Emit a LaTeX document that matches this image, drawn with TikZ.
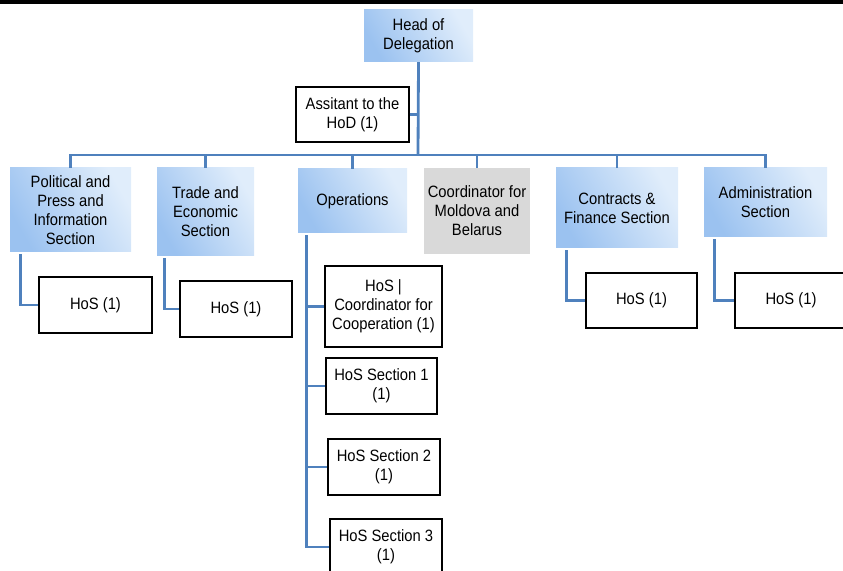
\documentclass[tikz,border=0pt]{standalone}
\usepackage{fontspec}
\setmainfont{Liberation Sans}[FakeStretch=0.9]
\definecolor{linkblue}{RGB}{79,129,189}
\definecolor{gradleft}{RGB}{155,194,240}
\definecolor{gradright}{RGB}{224,237,251}
\definecolor{coordgrey}{RGB}{217,217,217}
\begin{document}
\begin{tikzpicture}[x=0.03cm,y=-0.03cm,
 font=\fontsize{14}{16.2}\selectfont,
 unit/.style={align=center,inner sep=0pt,text=black},
 boxsize/.style 2 args={minimum width=#1*0.03cm,minimum height=#2*0.03cm},
 sectbox/.style={unit,left color=gradleft,right color=gradright,shading angle=120},
 coordbox/.style={unit,fill=coordgrey},
 hosbox/.style={unit,draw=black,line width=0.9pt,fill=white},
 link/.style={draw=linkblue,line width=2.4pt}]
 \useasboundingbox (0,0) rectangle (843,571);
 \draw[line width=2.6pt] (0,2) -- (843,2);
 % top
 \node[sectbox,boxsize={109}{52}] (head) at (418.5,36) {Head of\\Delegation};
 \node[hosbox,boxsize={113}{55}] (asst) at (352.5,114.5) {Assitant to the\\HoD (1)};
 \coordinate (bus) at (418,155);
 % sections
 \node[sectbox,boxsize={121}{84}] (pol) at (70.5,210) {Political and\\Press and\\Information\\Section};
 \node[sectbox,boxsize={97}{88}] (trade) at (205.5,212) {Trade and\\Economic\\Section};
 \node[sectbox,boxsize={109}{64}] (ops) at (352.5,201) {Operations};
 \node[coordbox,boxsize={106}{86}] (coord) at (477,211) {Coordinator for\\Moldova and\\Belarus};
 \node[sectbox,boxsize={122}{80}] (contr) at (617,208) {Contracts \&\\Finance Section};
 \node[sectbox,boxsize={123}{69}] (admin) at (765.5,202.5) {Administration\\Section};
 % heads of section
 \node[hosbox,boxsize={113}{56}] (polhos) at (95.5,305) {HoS (1)};
 \node[hosbox,boxsize={112}{56}] (tradehos) at (236,309) {HoS (1)};
 \node[hosbox,boxsize={117}{81}] (opshos0) at (383.5,306.5) {HoS |\\Coordinator for\\Cooperation (1)};
 \node[hosbox,boxsize={111}{56}] (opshos1) at (381.5,386) {HoS Section 1\\(1)};
 \node[hosbox,boxsize={112}{56}] (opshos2) at (384,467) {HoS Section 2\\(1)};
 \node[hosbox,boxsize={112}{56}] (opshos3) at (386,547) {HoS Section 3\\(1)};
 \node[hosbox,boxsize={111}{55}] (contrhos) at (641.5,300.5) {HoS (1)};
 \node[hosbox,boxsize={112}{55}] (adminhos) at (791,300.5) {HoS (1)};
 % connectors
 \draw[link] (head.south) -- (bus);
 \draw[link] (asst.east) -| (bus);
 \foreach \s in {pol,trade,ops,coord,contr,admin}
  \draw[link] (\s.north) |- (bus);
 \draw[link] (pol.south west) ++(11,2) |- (polhos.west);
 \draw[link] (trade.south west) ++(8,2) |- (tradehos.west);
 \foreach \h in {0,1,2,3}
  \draw[link] (ops.south west) ++(9,2) |- (opshos\h.west);
 \draw[link] (contr.south west) ++(11,2) |- (contrhos.west);
 \draw[link] (admin.south west) ++(11,2) |- (adminhos.west);
\end{tikzpicture}
\end{document}
